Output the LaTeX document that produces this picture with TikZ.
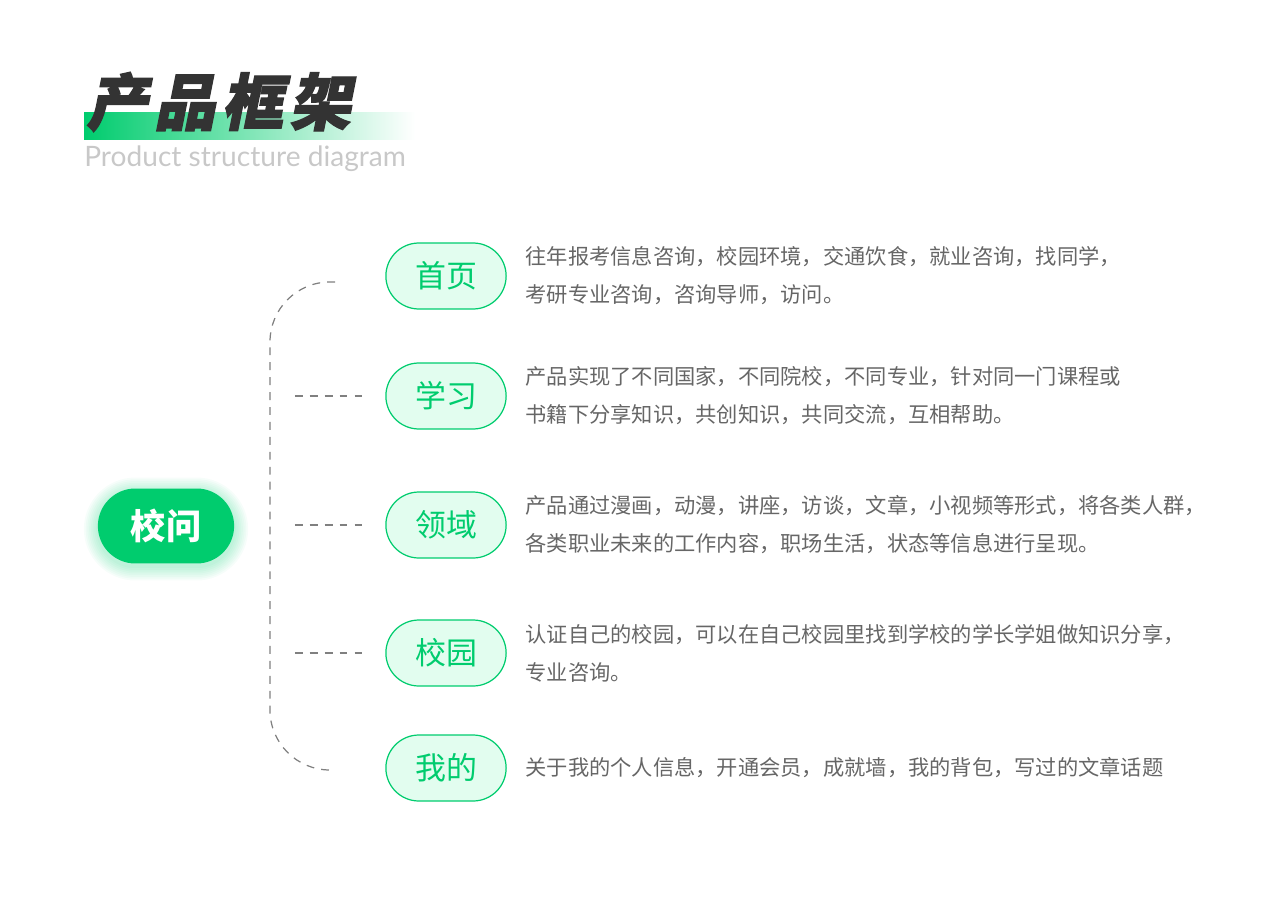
\documentclass[tikz,border=0pt]{standalone}
\usepackage{fontspec}
\newfontfamily\cjk{Noto Sans CJK SC}
\newfontfamily\titlefont[FakeSlant=0.2,FakeBold=2,LetterSpace=10]{Noto Sans CJK SC}
\newfontfamily\latin{Lato}
\usepackage{tikz}
\usetikzlibrary{positioning, shapes.misc}
\definecolor{mygreen}{HTML}{00CC6E}
\definecolor{mymint}{HTML}{E2FDEF}
\definecolor{mygray}{HTML}{666666}
\definecolor{mylight}{HTML}{C8C8C8}
\definecolor{mydash}{HTML}{808080}
\definecolor{mydark}{HTML}{333333}
\tikzset{
	rootbox/.style={rounded rectangle, fill=mygreen, text=white, minimum width=2.96cm, minimum height=1.5cm, font=\cjk\bfseries\fontsize{20}{24}\selectfont},
	branch/.style={rounded rectangle, draw=mygreen, line width=0.7pt, fill=mymint, text=mygreen, minimum width=2.64cm, minimum height=1.32cm, font=\cjk\fontsize{17.6}{20}\selectfont},
	desc/.style={right=0.37cm of #1, inner sep=0pt, align=left, text=mygray, font=\cjk\fontsize{12.1}{21.6}\selectfont},
	link/.style={draw=mydash, line width=0.7pt, dash pattern=on 4.5pt off 4pt}
}
\begin{document}
\begin{tikzpicture}[x=0.02cm, y=-0.02cm]
			\useasboundingbox (0,0) rectangle (1280,905);
			\shade[left color=mygreen, middle color=mygreen!35, right color=white] (84,113) rectangle (415,140);
			\node[anchor=west, inner sep=0pt, text=mydark, font=\titlefont\bfseries\fontsize{35}{40}\selectfont] (title) at (86,102) {产品框架};
			\node[anchor=base west, inner sep=0pt, text=mylight, font=\latin\fontsize{16}{18}\selectfont] (subtitle) at (84,167) {Product structure diagram};
			\foreach \g in {1,...,8}
				\node[rounded rectangle, fill=mygreen, opacity=0.035, minimum width=2.96cm+\g*0.07cm, minimum height=1.5cm+\g*0.07cm] at (166,529) {};
			\node[rootbox] (root) at (166,526) {校问};
			\node[branch] (shouye) at (446,276) {首页};
			\node[branch] (xuexi) at (446,396) {学习};
			\node[branch] (lingyu) at (446,525) {领域};
			\node[branch] (xiaoyuan) at (446,653) {校园};
			\node[branch] (wode) at (446,768) {我的};
			\node[desc=shouye] (shouyetxt) {往年报考信息咨询，校园环境，交通饮食，就业咨询，找同学，\\考研专业咨询，咨询导师，访问。};
			\node[desc=xuexi] (xuexitxt) {产品实现了不同国家，不同院校，不同专业，针对同一门课程或\\书籍下分享知识，共创知识，共同交流，互相帮助。};
			\node[desc=lingyu] (lingyutxt) {产品通过漫画，动漫，讲座，访谈，文章，小视频等形式，将各类人群，\\各类职业未来的工作内容，职场生活，状态等信息进行呈现。};
			\node[desc=xiaoyuan] (xiaoyuantxt) {认证自己的校园，可以在自己校园里找到学校的学长学姐做知识分享，\\专业咨询。};
			\node[desc=wode] (wodetxt) {关于我的个人信息，开通会员，成就墙，我的背包，写过的文章话题};
			\coordinate (ltop) at (335,282);
			\coordinate (lbot) at (335,770);
			\draw[link, rounded corners=1.2cm] (ltop) -- ++(-65,0) |- (lbot);
			\foreach \b in {xuexi, lingyu, xiaoyuan}
				\draw[link] ([xshift=-1.81cm]\b.west) -- ([xshift=-0.41cm]\b.west);
		\end{tikzpicture}
\end{document}
